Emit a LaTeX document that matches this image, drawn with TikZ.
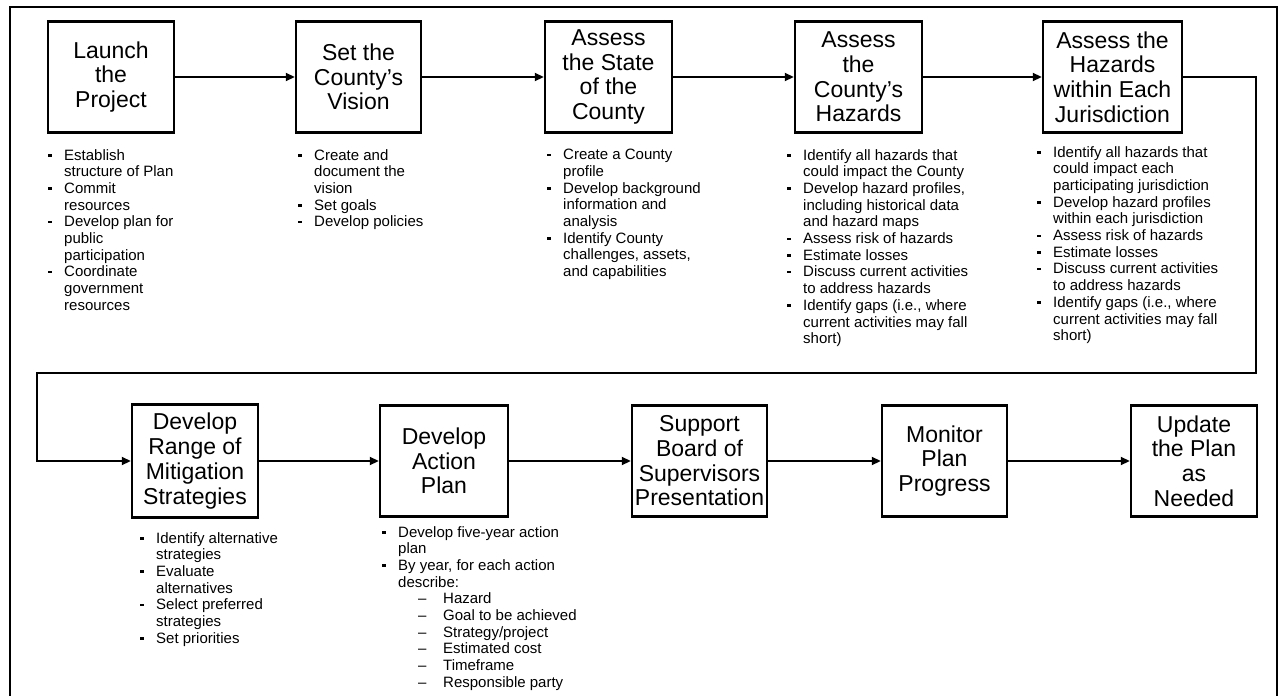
\documentclass[tikz,border=0pt]{standalone}
\usepackage{fontspec}
\setmainfont{Liberation Sans}
\usetikzlibrary{arrows.meta}

% bullet, hanging indent and sub-item for the note lists
\newcommand\bul{\makebox[16pt][l]{\raisebox{3.5pt}{\rule{3.5pt}{2.5pt}}}}
\newcommand\ind{\hspace*{16pt}}
\newcommand\sub{\hspace*{36pt}\makebox[25pt][l]{--}}

\tikzset{
  stage/.style={draw, line width=2.4pt, inner sep=0pt, minimum width=126pt,
    minimum height=111pt, align=center, font=\fontsize{23}{24.7}\selectfont,
    execute at begin node={\rule{0pt}{22pt}}},
  notes/.style={anchor=north west, inner sep=0pt, align=left,
    font=\fontsize{15}{16.7}\selectfont},
  flow/.style={line width=1.8pt, -{Triangle[length=9pt,width=8pt]}}
}

\begin{document}
\begin{tikzpicture}[x=1pt, y=-1pt]
        \useasboundingbox (0,0) rectangle (1285,696);
        \fill[white] (0,0) rectangle (1285,696);
        % outer frame, open at the bottom
        \draw[line width=2.6pt] (10,700) -- (10,7) -- (1277,7) -- (1277,700);

        % first row
        \node[stage] (launch) at (111,77) {Launch\\the\\Project};
        \node[stage, minimum width=125pt] (vision) at (358.5,77) {Set the\\County’s\\Vision};
        \node[stage, minimum width=127pt] (state) at (608.5,77) {Assess\\the State\\of the\\County};
        \node[stage, minimum width=127pt] (hazards) at (858.5,77) {Assess\\the\\County’s\\Hazards};
        \node[stage, minimum width=139pt] (juris) at (1112.5,77) {Assess the\\Hazards\\within Each\\Jurisdiction};

        % second row
        \node[stage, minimum height=113pt] (range) at (195,461) {Develop\\Range of\\Mitigation\\Strategies};
        \node[stage, minimum width=128pt] (action) at (444,461) {Develop\\Action\\Plan};
        \node[stage, minimum width=135pt] (board) at (699.5,461) {Support\\Board of\\Supervisors\\Presentation};
        \node[stage, minimum width=125pt] (monitor) at (944.5,461) {Monitor\\Plan\\Progress};
        \node[stage] (update) at (1194,461) {Update\\the Plan\\as\\Needed};

        % notes under the boxes
        \node[notes] (launchnotes) at (48,149) {\bul Establish\\\ind structure of Plan\\\bul Commit\\\ind resources\\\bul Develop plan for\\\ind public\\\ind participation\\\bul Coordinate\\\ind government\\\ind resources};
        \node[notes] (visionnotes) at (298,149) {\bul Create and\\\ind document the\\\ind vision\\\bul Set goals\\\bul Develop policies};
        \node[notes] (statenotes) at (547,149) {\bul Create a County\\\ind profile\\\bul Develop background\\\ind information and\\\ind analysis\\\bul Identify County\\\ind challenges, assets,\\\ind and capabilities};
        \node[notes] (hazardsnotes) at (787,149) {\bul Identify all hazards that\\\ind could impact the County\\\bul Develop hazard profiles,\\\ind including historical data\\\ind and hazard maps\\\bul Assess risk of hazards\\\bul Estimate losses\\\bul Discuss current activities\\\ind to address hazards\\\bul Identify gaps (i.e., where\\\ind current activities may fall\\\ind short)};
        \node[notes] (jurisnotes) at (1037,146) {\bul Identify all hazards that\\\ind could impact each\\\ind participating jurisdiction\\\bul Develop hazard profiles\\\ind within each jurisdiction\\\bul Assess risk of hazards\\\bul Estimate losses\\\bul Discuss current activities\\\ind to address hazards\\\bul Identify gaps (i.e., where\\\ind current activities may fall\\\ind short)};
        \node[notes] (rangenotes) at (140,532) {\bul Identify alternative\\\ind strategies\\\bul Evaluate\\\ind alternatives\\\bul Select preferred\\\ind strategies\\\bul Set priorities};
        \node[notes] (actionnotes) at (382,526) {\bul Develop five-year action\\\ind plan\\\bul By year, for each action\\\ind describe:\\\sub Hazard\\\sub Goal to be achieved\\\sub Strategy/project\\\sub Estimated cost\\\sub Timeframe\\\sub Responsible party};

        % connectors
        \draw[flow] (launch) -- (vision);
        \draw[flow] (vision) -- (state);
        \draw[flow] (state) -- (hazards);
        \draw[flow] (hazards) -- (juris);
        \coordinate (bendR) at (1256,373);
        \coordinate (bendL) at (37,373);
        \draw[flow] (juris.east) -| (bendR) -- (bendL) |- (range.west);
        \draw[flow] (range) -- (action);
        \draw[flow] (action) -- (board);
        \draw[flow] (board) -- (monitor);
        \draw[flow] (monitor) -- (update);
      \end{tikzpicture}
\end{document}
